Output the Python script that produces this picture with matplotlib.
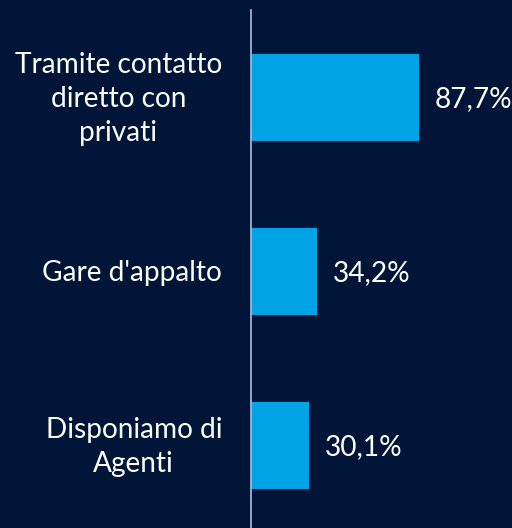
import matplotlib
matplotlib.use("Agg")
import matplotlib.pyplot as plt

CATEGORIES = ["Tramite contatto\ndiretto con\nprivati", "Gare d'appalto", "Disponiamo di\nAgenti"]
VALUES = [87.7, 34.2, 30.1]
LABELS = ["87,7%", "34,2%", "30,1%"]

BG, BAR, AXIS, INK = "#011538", "#00a3e3", "#a9c1e6", "#ffffff"

plt.rcParams["font.family"] = ["Lato", "DejaVu Sans"]

fig = plt.figure(figsize=(5.12, 5.28), dpi=100)
fig.patch.set_facecolor(BG)
ax = fig.add_axes([251 / 512, -4 / 528, 261 / 512, 522 / 528])
ax.set_facecolor(BG)

y = range(len(VALUES))
ax.barh(y, VALUES, height=0.5, color=BAR)
ax.set_xlim(0, 136.2)
ax.set_ylim(2.5, -0.5)

for i, (v, lab) in enumerate(zip(VALUES, LABELS)):
    ax.annotate(lab, (v, i), xytext=(16, -2), textcoords="offset pixels",
                ha="left", va="center", fontsize=20.2, color=INK)
for i, cat in enumerate(CATEGORIES):
    ax.annotate(cat, (0, i), xytext=(-29, -2), textcoords="offset pixels",
                ha="right", va="center", multialignment="center",
                fontsize=20.2, color=INK, linespacing=1.38)

for sp in ["top", "right", "bottom"]:
    ax.spines[sp].set_visible(False)
ax.spines["left"].set_color(AXIS)
ax.spines["left"].set_linewidth(1.2)
ax.set_xticks([])
ax.set_yticks([])

fig.savefig("out.png", dpi=100, facecolor=BG)
